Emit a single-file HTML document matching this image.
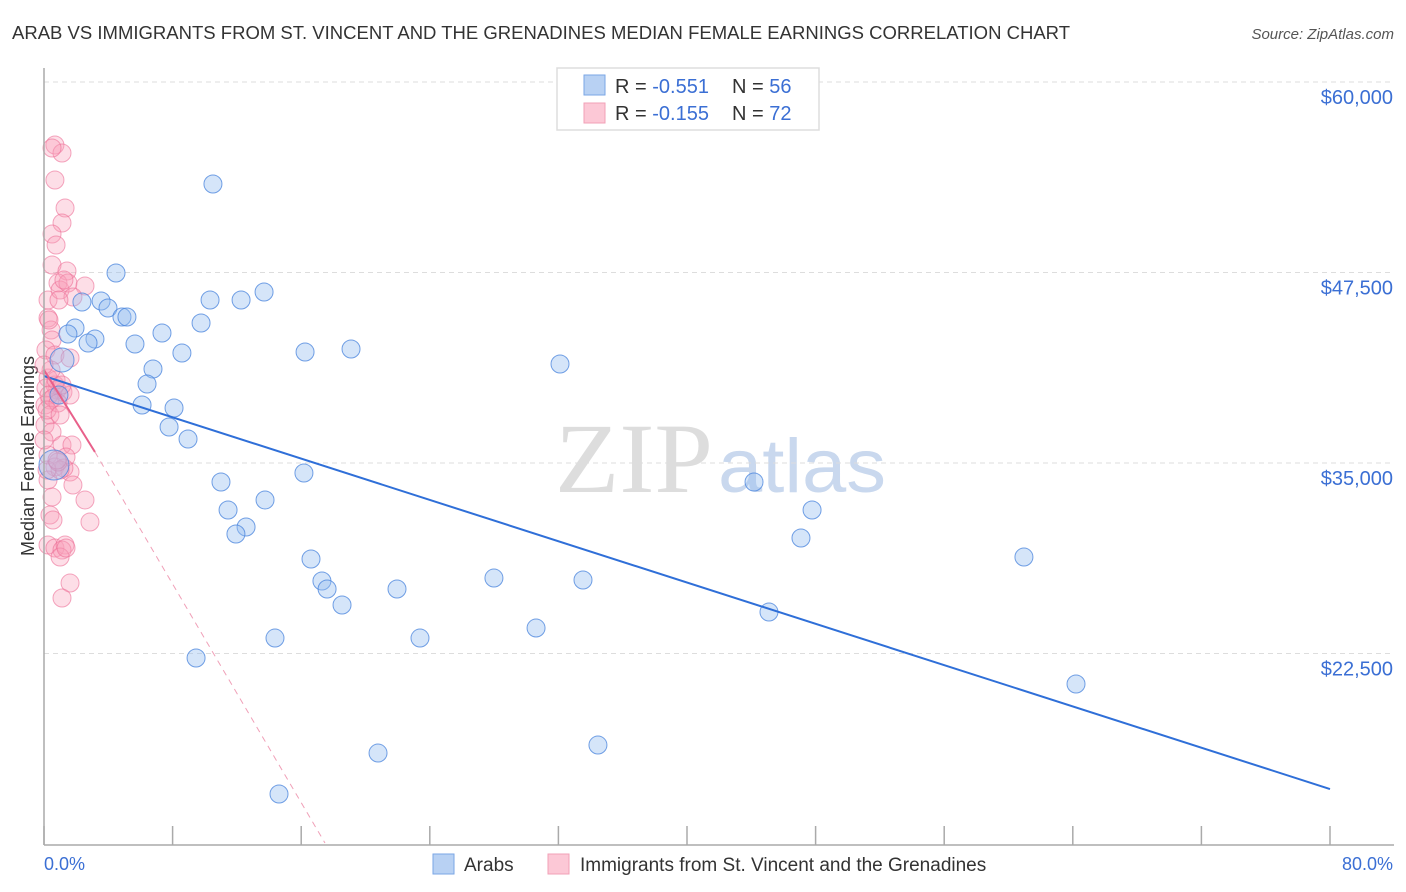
<!DOCTYPE html>
<html><head><meta charset="utf-8"><style>
body{margin:0;background:#fff;font-family:"Liberation Sans",sans-serif}
svg{display:block}
</style></head><body>
<svg id="chart" width="1406" height="892">
<text x="12" y="39" font-size="18" fill="#333" textLength="1058" lengthAdjust="spacingAndGlyphs">ARAB VS IMMIGRANTS FROM ST. VINCENT AND THE GRENADINES MEDIAN FEMALE EARNINGS CORRELATION CHART</text>
<text x="1394" y="39" font-size="15" fill="#555" font-style="italic" text-anchor="end">Source: ZipAtlas.com</text>
<text x="555" y="492" font-size="100" fill="#ddd" textLength="158" lengthAdjust="spacingAndGlyphs" font-family="Liberation Serif,serif">ZIP</text>
<text x="718" y="492" font-size="76" fill="#c9d8ee" textLength="168" lengthAdjust="spacingAndGlyphs">atlas</text>
<text transform="translate(34,456) rotate(-90)" font-size="18" fill="#333" text-anchor="middle">Median Female Earnings</text>
<g id="grid"></g><g id="pts"></g><g id="lines"></g>
<line x1="44" y1="68" x2="44" y2="845" stroke="#aaa" stroke-width="1.5"/>
<line x1="44" y1="845" x2="1394" y2="845" stroke="#aaa" stroke-width="1.5"/>
<g id="xt"></g>
<text x="44" y="870" font-size="18" fill="#3b6fd4">0.0%</text>
<text x="1393" y="870" font-size="18" fill="#3b6fd4" text-anchor="end">80.0%</text>
<g>
<rect x="557" y="68" width="262" height="62" fill="#fff" stroke="#ddd" stroke-width="1.5"/>
<rect x="584" y="75" width="21" height="20" fill="#b8d1f3" stroke="#7aa6e6"/>
<rect x="584" y="103" width="21" height="20" fill="#fcc8d6" stroke="#f2a0b7"/>
<text x="615" y="93" font-size="20" fill="#333">R = <tspan fill="#3b6fd4">-0.551</tspan><tspan x="732">N = </tspan><tspan fill="#3b6fd4">56</tspan></text>
<text x="615" y="120" font-size="20" fill="#333">R = <tspan fill="#3b6fd4">-0.155</tspan><tspan x="732">N = </tspan><tspan fill="#3b6fd4">72</tspan></text>
</g>
<g>
<rect x="433" y="854" width="21" height="20" fill="#b8d1f3" stroke="#7aa6e6"/>
<text x="464" y="871" font-size="19" fill="#333">Arabs</text>
<rect x="548" y="854" width="21" height="20" fill="#fcc8d6" stroke="#f2a0b7"/>
<text x="580" y="871" font-size="19" fill="#333">Immigrants from St. Vincent and the Grenadines</text>
</g>
</svg>
<script>
const yTicks=[60000,47500,35000,22500];
const yTickLabels=["$60,000","$47,500","$35,000","$22,500"];
const xTicks=[0,8,16,24,32,40,48,56,64,72,80];
const arabX=[10.51,4.48,2.36,3.55,3.98,4.85,5.16,1.93,1.49,3.17,2.74,5.66,7.34,9.77,10.33,12.26,13.69,6.78,8.58,6.41,6.10,8.09,7.78,8.96,16.24,19.10,32.10,11.01,11.45,13.75,12.57,11.94,16.17,16.61,17.29,17.61,18.54,21.96,27.99,33.53,30.61,23.39,14.37,9.46,14.62,20.78,34.46,44.17,47.78,47.09,45.10,60.96,64.20,1.12,0.62,0.93];
const arabY=[53307,47467,45564,45629,45170,44579,44579,43857,43464,43136,42873,42808,43529,44186,45695,45695,46220,41167,42217,40183,38805,38608,37361,36574,42283,42479,41495,33752,31915,32571,30799,30340,34343,28699,27256,26731,25681,26731,27452,27321,24171,23515,23515,22203,13279,15969,16494,33752,31915,30077,25221,28830,20497,41758,34868,39461];
const arabR=[9,9,9,9,9,9,9,9,9,9,9,9,9,9,9,9,9,9,9,9,9,9,9,9,9,9,9,9,9,9,9,9,9,9,9,9,9,9,9,9,9,9,9,9,9,9,9,9,9,9,9,9,9,12,15,9];
const vincX=[0.68,1.12,0.50,0.68,1.31,1.12,0.50,0.75,0.50,1.43,0.25,0.25,0.44,0.50,0.87,1.00,1.49,2.55,1.80,0.93,0.12,0.68,1.62,0.25,0.81,1.18,1.62,0.37,0.06,0.68,0.37,0.06,0.50,1.12,1.74,0.25,1.37,0.68,1.62,0.25,1.24,1.00,1.80,0.50,2.55,0.37,2.86,0.25,0.68,1.31,1.12,1.00,1.62,1.12,0.12,0.31,0.56,0.87,0.19,0.75,0.00,0.19,0.56,1.37,0.87,0.44,1.00,0.00,0.31,0.81,1.24,1.12];
const vincY=[55866,55341,55669,53569,51732,50748,50026,49304,47991,47598,45695,44514,43726,43070,46810,46351,46810,46613,45892,45695,42414,42086,41889,40576,39789,39658,39461,39133,38805,40117,38149,37492,37033,36180,36180,35524,35393,34737,34409,33883,34671,34540,33555,32767,32571,31587,31127,29618,29421,29618,29290,28830,27124,26140,39920,39461,39264,38936,38477,40445,36508,34540,31258,29421,35065,41101,38149,41430,44383,35196,47007,40117];
const arabTrend=[[0,40708],[80,13607]];
const vincTrendSolid=[[0,41101],[3.17,35721]];
const vincTrendDash=[[3.17,35721],[17.48,10063]];
const NS="http://www.w3.org/2000/svg";
const xs=v=>44+v/80*1286;
const ys=v=>82+(60000-v)/12500*190.5;
function mk(tag,attrs,parent){const e=document.createElementNS(NS,tag);for(const k in attrs)e.setAttribute(k,attrs[k]);document.getElementById(parent).appendChild(e);return e;}
yTicks.forEach((t,i)=>{
 const l=mk('line',{x1:44,x2:1394,y1:ys(t),y2:ys(t),stroke:'#ddd','stroke-dasharray':'5,4'},'grid');
 
 
 const tx=mk('text',{x:1393,y:ys(t)+22,'font-size':20,fill:'#3b6fd4','text-anchor':'end'},'grid');
 tx.textContent=yTickLabels[i];
 
 
});
xTicks.forEach(t=>{
 const l=mk('line',{x1:xs(t),x2:xs(t),y1:826,y2:845,stroke:'#aaa','stroke-width':1.5},'xt');
 
 
});
vincX.forEach((x,i)=>{
 const c=mk('circle',{cx:xs(x),cy:ys(vincY[i]),r:9,fill:'rgba(248,160,185,0.35)',stroke:'rgba(236,110,150,0.6)','stroke-width':1},'pts');
 
 
});
arabX.forEach((x,i)=>{
 const c=mk('circle',{cx:xs(x),cy:ys(arabY[i]),r:arabR[i],fill:'rgba(150,190,240,0.4)',stroke:'rgba(70,130,220,0.75)','stroke-width':1},'pts');
 
 
});
const a=mk('line',{x1:xs(arabTrend[0][0]),y1:ys(arabTrend[0][1]),x2:xs(arabTrend[1][0]),y2:ys(arabTrend[1][1]),stroke:'#2f6fd8','stroke-width':2},'lines');


const p=mk('line',{x1:xs(vincTrendSolid[0][0]),y1:ys(vincTrendSolid[0][1]),x2:xs(vincTrendSolid[1][0]),y2:ys(vincTrendSolid[1][1]),stroke:'#e8608a','stroke-width':2},'lines');


const d=mk('line',{x1:xs(vincTrendDash[0][0]),y1:ys(vincTrendDash[0][1]),x2:xs(vincTrendDash[1][0]),y2:ys(vincTrendDash[1][1]),stroke:'#f0a0b8','stroke-width':1,'stroke-dasharray':'6,5'},'lines');


</script>
</body></html>
